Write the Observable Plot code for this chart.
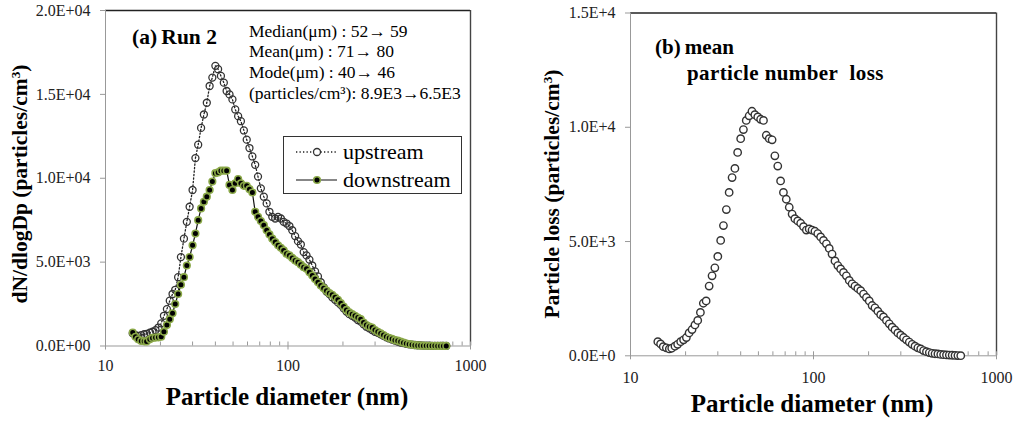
<!DOCTYPE html>
<html><head><meta charset="utf-8">
<script src="https://cdn.jsdelivr.net/npm/d3@7"></script>
<script src="https://cdn.jsdelivr.net/npm/@observablehq/plot@0.6"></script>
<style>
body{margin:0;background:#fff;}
#wrap{position:relative;width:1016px;height:421px;overflow:hidden;font-family:"Liberation Serif","Times New Roman",serif;color:#000;}
.abs{position:absolute;white-space:nowrap;line-height:1;font-family:"Liberation Serif","Times New Roman",serif;}
.plot{position:absolute;top:0;}
sup{font-size:0.62em;vertical-align:0.55em;line-height:0;}
</style></head><body><div id="wrap"></div>
<script>
// Particle diameters (nm), SMPS channels
const diameters = [14.1,14.6,15.1,15.7,16.3,16.8,17.5,18.1,18.8,19.5,
20.2,20.9,21.7,22.5,23.3,24.1,25.0,25.9,26.9,27.9,
28.9,30.0,31.1,32.2,33.4,34.6,35.9,37.2,38.5,40.0,
41.4,42.9,44.5,46.1,47.8,49.6,51.4,53.3,55.2,57.3,
59.4,61.5,63.8,66.1,68.5,71.0,73.7,76.4,79.1,82.0,
85.1,88.2,91.4,94.7,98.2,101.8,105.5,109.4,113.4,117.6,
121.9,126.3,131.0,135.8,140.7,145.9,151.2,156.8,162.5,168.5,
174.7,181.1,187.7,194.6,201.7,209.1,216.7,224.7,232.9,241.4,
250.3,259.5,269.0,278.8,289.0,299.6,310.6,322.0,333.8,346.0,
358.7,371.8,385.4,399.5,414.2,429.4,445.1,461.4,478.3,495.8,
514.0,532.8,552.3,572.5,593.5,615.3,637.8,661.2,685.4,710.5,736.5];

// (a) Run 2: dN/dlogDp upstream
const upstream = [750,650,600,650,700,720,800,850,950,1100,
1350,1800,2200,2700,3100,3350,4100,5300,6400,7400,
8300,9300,11200,12000,13000,13800,14500,15500,16000,16700,
16500,16100,15700,15200,15000,14700,14100,13700,13400,12850,
12300,11800,11300,10800,10100,9400,8900,8500,8000,7700,
7600,7700,7600,7400,7300,7150,6900,6550,6250,6050,
5600,5400,5150,4800,4450,4150,3800,3500,3250,3100,
2900,2750,2600,2450,2250,2050,1900,1800,1700,1550,
1450,1300,1150,1050,950,850,780,700,600,520,
450,380,320,260,210,170,130,100,80,60,
45,35,25,20,15,10,8,5,4,3,2];

// (a) Run 2: dN/dlogDp downstream
const downstream = [800,550,400,300,280,270,400,480,500,520,
550,850,1250,1600,1950,2500,3100,3650,4100,4800,
5300,6000,6700,7500,8200,8600,8900,9300,9800,10300,
10350,10450,10450,10450,9600,9300,9700,9950,9700,9550,
9550,9350,9150,8000,7700,7450,7200,6900,6650,6400,
6200,6000,5850,5700,5500,5400,5250,5100,5000,4850,
4700,4600,4400,4200,4000,3800,3600,3450,3300,3150,
3050,2900,2750,2550,2350,2150,2000,1900,1800,1700,
1600,1400,1250,1150,1100,950,850,750,650,550,
470,420,350,320,260,200,150,110,80,50,
35,25,20,15,10,10,8,5,4,3,2];

// (b) mean particle number loss (first 107 channels)
const loss = [620,520,400,350,300,330,420,500,620,700,
800,1000,1150,1350,1550,1900,2300,2400,3050,3500,
3850,4350,5050,5700,6400,7150,7800,8200,8900,9500,
9900,10300,10500,10700,10550,10450,10350,10300,9650,9500,
9450,8750,8300,7650,7150,6850,6500,6200,6000,5900,
5800,5650,5500,5550,5500,5450,5350,5200,5050,4900,
4700,4450,4150,3950,3800,3650,3500,3300,3150,3050,
2950,2850,2700,2550,2400,2200,2100,1950,1800,1700,
1550,1400,1250,1130,1000,900,800,700,600,500,
420,350,300,230,180,140,110,90,80,60,
50,40,30,25,15,10,5];

const majorX = [10,100,1000];
const minorX = [20,30,40,50,60,70,80,90,200,300,400,500,600,700,800,900];
const yTicksA = [0,5000,10000,15000,20000];
const yTicksB = [0,5000,10000,15000];
const statLines = ["Median(\u03bcm) : 52\u2192 59","Mean(\u03bcm) : 71\u2192  80","Mode(\u03bcm) : 40\u2192 46","(particles/cm\u00b3): 8.9E3\u21926.5E3"];
const seriesNames = ["upstream","downstream"];

const sci = (pad) => d => {
  if (d === 0) return "0.0E+" + (pad ? "00" : "0");
  const e = Math.floor(Math.log10(d) + 1e-9);
  const m = d / Math.pow(10, e);
  return m.toFixed(1) + "E+" + (pad ? String(e).padStart(2, "0") : String(e));
};

const up = diameters.map((d, i) => ({d, v: upstream[i]}));
const down = diameters.map((d, i) => ({d, v: downstream[i]}));
const lossData = loss.map((v, i) => ({d: diameters[i], v}));

const wrap = document.getElementById("wrap");
const baseStyle = {fontFamily: "Liberation Serif, Times New Roman, serif", fontSize: "16px", color: "#222", background: "transparent", overflow: "visible"};

function panel({W, H, mL, mR, mT, mB, ymax, yTicks, fmt, padX, marks}) {
  const ih = H - mT - mB;
  return Plot.plot({
    width: W, height: H, marginLeft: mL, marginRight: mR, marginTop: mT, marginBottom: mB,
    x: {type: "log", domain: [10, 1000]},
    y: {domain: [0, ymax]},
    style: baseStyle,
    marks: [
      Plot.ruleY([ymax], {stroke: "#222", strokeWidth: 1.4}),
      Plot.ruleX([1000], {stroke: "#444", strokeWidth: 1.4}),
      Plot.ruleX([10], {stroke: "#999"}),
      Plot.ruleY([0], {stroke: "#999"}),
      Plot.ruleX(minorX, {insetTop: ih - 4, stroke: "#999"}),
      Plot.ruleX(majorX, {insetTop: ih - 4, insetBottom: -4, stroke: "#999"}),
      Plot.axisY({ticks: yTicks, tickFormat: fmt, tickSize: 5, tickPadding: 10, label: null, stroke: "#999", fill: "#222"}),
      Plot.axisX({ticks: majorX, tickFormat: d => String(d), tickSize: 0, tickPadding: padX, label: null, fill: "#222"}),
      ...marks
    ]
  });
}

const left = panel({W: 500, H: 421, mL: 105, mR: 30, mT: 10, mB: 75.5, ymax: 20000, yTicks: yTicksA, fmt: sci(true), padX: 14,
  marks: [
    Plot.line(up, {x: "d", y: "v", stroke: "#222", strokeWidth: 1.3, strokeDasharray: "1.3,2.2"}),
    Plot.dot(up, {x: "d", y: "v", r: 3.5, fill: "none", stroke: "#333", strokeWidth: 1.3}),
    Plot.line(down, {x: "d", y: "v", stroke: "#111", strokeWidth: 1.2}),
    Plot.dot(down, {x: "d", y: "v", r: 3.3, fill: "#000", stroke: "#8aa848", strokeWidth: 1.6})
  ]});
left.classList.add("plot");
left.style.left = "0px";
wrap.appendChild(left);

const right = panel({W: 506, H: 421, mL: 120, mR: 20, mT: 12.5, mB: 65.7, ymax: 15000, yTicks: yTicksB, fmt: sci(false), padX: 16,
  marks: [
    Plot.dot(lossData, {x: "d", y: "v", r: 3.7, fill: "#fff", stroke: "#333", strokeWidth: 1.4})
  ]});
right.classList.add("plot");
right.style.left = "510px";
wrap.appendChild(right);

function label(html, x, y, {size = 16, bold = false, anchor = "start", rotate = false, spacing = 0} = {}) {
  const el = document.createElement("div");
  el.className = "abs";
  el.innerHTML = html;
  el.style.fontSize = size + "px";
  el.style.fontWeight = bold ? "bold" : "normal";
  if (spacing) el.style.letterSpacing = spacing + "px";
  el.style.left = x + "px";
  el.style.top = y + "px";
  const tx = anchor === "middle" ? "-50%" : "0";
  el.style.transform = `translate(${tx},-50%)`;
  if (rotate) el.style.transform = "translate(-50%,-50%) rotate(-90deg)";
  wrap.appendChild(el);
  return el;
}

// axis titles
label("dN/dlogDp (particles/cm<sup>3</sup>)", 21, 184, {size: 21.5, bold: true, rotate: true});
label("Particle diameter (nm)", 287, 396, {size: 25, bold: true, anchor: "middle"});
label("Particle loss (particles/cm<sup>3</sup>)", 553, 194, {size: 21.5, bold: true, rotate: true});
label("Particle diameter (nm)", 812, 403, {size: 25, bold: true, anchor: "middle"});

// panel titles
label("(a)&#8201;Run 2", 132, 38, {size: 21.5, bold: true});
label("(b)&#8201;mean", 655, 47, {size: 21, bold: true});
label("particle number&nbsp; loss", 687, 73, {size: 21, bold: true, spacing: 0.4});

// statistics text
const statY = [32, 52, 73, 94];
statLines.forEach((t, i) => label(t, 249, statY[i], {size: 17.5}));

// legend
const lg = document.createElement("div");
lg.className = "abs";
Object.assign(lg.style, {left: "283px", top: "136px", width: "177px", height: "56px", border: "1.2px solid #333", background: "#fff"});
wrap.appendChild(lg);
const ns = "http://www.w3.org/2000/svg";
const sym = document.createElementNS(ns, "svg");
sym.setAttribute("width", "60"); sym.setAttribute("height", "60");
sym.style.position = "absolute"; sym.style.left = "283px"; sym.style.top = "136px";
sym.innerHTML = `
<line x1="13" x2="54" y1="16" y2="16" stroke="#222" stroke-width="1.3" stroke-dasharray="1.3,2.2"/>
<circle cx="34" cy="16" r="3.5" fill="#fff" stroke="#333" stroke-width="1.3"/>
<line x1="13" x2="54" y1="44" y2="44" stroke="#111" stroke-width="1.2"/>
<circle cx="34" cy="44" r="3.3" fill="#000" stroke="#8aa848" stroke-width="1.6"/>`;
wrap.appendChild(sym);
label(seriesNames[0], 343, 152, {size: 22});
label(seriesNames[1], 343, 180, {size: 22});
</script>
</body></html>
